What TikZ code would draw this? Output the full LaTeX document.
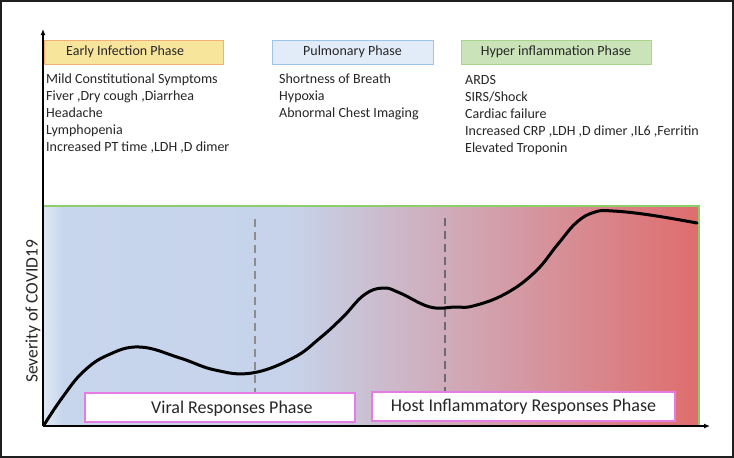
\documentclass[tikz,border=0pt]{standalone}
\usepackage{fontspec}
\setmainfont{Carlito}
\usetikzlibrary{arrows.meta}
\definecolor{txt}{HTML}{262626}
\definecolor{yfill}{HTML}{F8E59C}
\definecolor{ydraw}{HTML}{F2B078}
\definecolor{bfill}{HTML}{E2ECF8}
\definecolor{bdraw}{HTML}{9CC3E8}
\definecolor{gfill}{HTML}{CBE3B8}
\definecolor{gdraw}{HTML}{A8D48C}
\definecolor{vio}{HTML}{E47CE4}
\definecolor{grn}{HTML}{8CCF6A}
\definecolor{s0}{HTML}{E0E8F4}
\definecolor{s1}{HTML}{C8D6ED}
\definecolor{s2}{HTML}{C6D3EA}
\definecolor{s3}{HTML}{D0AAB8}
\definecolor{s4}{HTML}{DF6D6D}
\tikzset{
  hdr/.style={draw=#1, line width=1pt, minimum height=24pt, inner sep=0pt},
  lst/.style={anchor=base west, inner sep=0pt, text=txt, font=\fontsize{14}{17}\selectfont, align=left},
  phase/.style={draw=vio, fill=white, line width=1.3pt, inner sep=0pt, minimum height=29pt},
  axis/.style={line width=1.8pt, -{Latex[length=6pt,width=5pt]}},
  dsh/.style={line width=1.5pt, dash pattern=on 8pt off 5pt},
}
\begin{document}
\begin{tikzpicture}[x=1pt,y=-1pt]
\useasboundingbox (0,0) rectangle (734,458);
\fill[white] (0,0) rectangle (734,458);
\draw[black!88, line width=1.6pt] (1,1) rectangle (733,457);
% background gradient
\shade[left color=s0, right color=s1] (43,206) rectangle (62.5,426);
\shade[left color=s1, right color=s2] (62,206) rectangle (290.5,426);
\shade[left color=s2, right color=s3] (290,206) rectangle (450.5,426);
\shade[left color=s3, right color=s4] (450,206) rectangle (699,426);
\draw[grn, line width=1.2pt] (43,206) -- (699,206) -- (699,426);
% dashed separators
\coordinate (d1a) at (255,219); \coordinate (d1b) at (255,393);
\coordinate (d2a) at (445,218); \coordinate (d2b) at (445,392);
\draw[dsh, black!45] (d1a) -- (d1b);
\draw[dsh, black!58] (d2a) -- (d2b);
% curve
\draw[line width=3pt, line cap=round, line join=round] plot[smooth, tension=0.7] coordinates {
(44,425) (62,398) (83,372) (108,355) (140,347) (180,358) (215,370) (252,373)
(293,358) (320,338) (343,317) (364,295) (383,288) (400,293) (430,307) (455,307) (473,306)
(505,294) (535,272) (558,244) (577,222) (595,212) (613,211) (650,215) (697,223)};
% axes
\coordinate (O) at (43,426);
\coordinate (ytop) at (43,29);
\coordinate (xend) at (710,426);
\draw[axis] (O) -- (ytop);
\draw[axis] (O) -- (xend);
% header boxes
\node[hdr=ydraw, fill=yfill, minimum width=179pt] (early) at (133.5,52) {};
\node[anchor=west, inner sep=0pt, text=txt, font=\fontsize{14}{17}\selectfont] (earlyt) at (66,52) {Early Infection Phase};
\node[hdr=bdraw, fill=bfill, minimum width=161pt, text=txt, font=\fontsize{14}{17}\selectfont] (pulm) at (352.5,52) {Pulmonary Phase};
\node[hdr=gdraw, fill=gfill, minimum width=190pt, text=txt, font=\fontsize{14}{17}\selectfont] (hyper) at (556,52) {Hyper inflammation Phase};
% lists
\node[lst] (l1a) at (46,83) {Mild Constitutional Symptoms};
\node[lst] (l1b) at (46,100) {Fiver ,Dry cough ,Diarrhea};
\node[lst] (l1c) at (46,117) {Headache};
\node[lst] (l1d) at (46,134) {Lymphopenia};
\node[lst] (l1e) at (46,151) {Increased PT time ,LDH ,D dimer};
\node[lst] (l2a) at (279,83) {Shortness of Breath};
\node[lst] (l2b) at (279,100) {Hypoxia};
\node[lst] (l2c) at (279,117) {Abnormal Chest Imaging};
\node[lst] (l3a) at (465,84) {ARDS};
\node[lst] (l3b) at (465,101) {SIRS/Shock};
\node[lst] (l3c) at (465,118) {Cardiac failure};
\node[lst] (l3d) at (465,135) {Increased CRP ,LDH ,D dimer ,IL6 ,Ferritin};
\node[lst] (l3e) at (465,152) {Elevated Troponin};
% bottom phase boxes
\node[phase, minimum width=270pt] (viral) at (220,407.5) {};
\node[anchor=west, inner sep=0pt, text=txt, font=\fontsize{18}{20}\selectfont] (viralt) at (151,408.5) {Viral Responses Phase};
\node[phase, minimum width=303pt, text=txt, font=\fontsize{18}{20}\selectfont] (host) at (523.5,406.5) {Host Inflammatory Responses Phase};
% y label
\node[rotate=90, text=txt, font=\fontsize{17.5}{20}\selectfont, inner sep=0pt] (ylab) at (33,311.5) {Severity of COVID19};
\end{tikzpicture}
\end{document}
